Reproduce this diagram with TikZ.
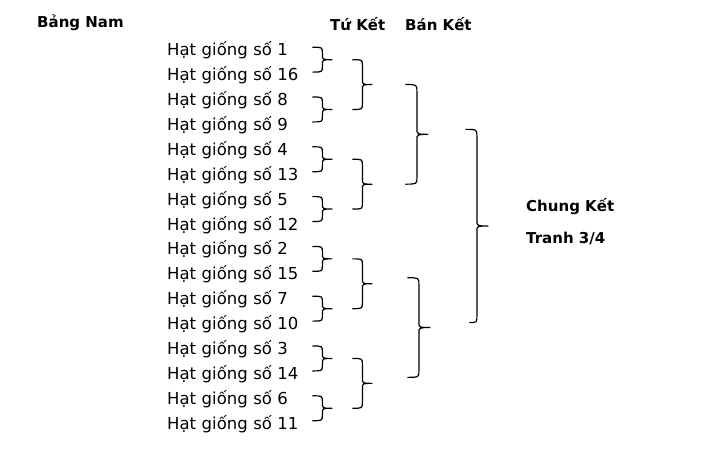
\documentclass[tikz,border=0pt]{standalone}
\usepackage{fontspec}
\setmainfont{DejaVu Sans}
\usetikzlibrary{positioning, calc}
\tikzset{
  seed/.style={inner sep=0pt, minimum height=24.5pt, text width=140pt, text height=17pt, text depth=0pt, align=left, font=\fontsize{16.5}{19}\selectfont},
  head/.style={inner sep=0pt, anchor=base west, font=\fontsize{15}{18}\selectfont\bfseries},
  brk/.style={line width=1.2pt, to path={let \p1=(\tikztostart), \p2=(\tikztotarget), \p3=($(\tikztostart)!.5!(\tikztotarget)$) in
    .. controls (\x1+#1/2,\y1) .. (\x1+#1/2,\y1-0.3*#1)
    -- (\x1+#1/2,\y3+0.25*#1) .. controls (\x1+#1/2,\y3) .. (\x1+#1,\y3)
    .. controls (\x1+#1/2,\y3) .. (\x1+#1/2,\y3-0.25*#1)
    -- (\x1+#1/2,\y2+0.3*#1) .. controls (\x1+#1/2,\y2) .. (\tikztotarget)}}
}

\begin{document}
\begin{tikzpicture}[x=1pt, y=-1pt, node distance=0pt]
\useasboundingbox (0,0) rectangle (720,456);
% headings
\node[head] (nam) at (37,27) {Bảng Nam};
\node[head] (tk) at (330,30) {Tứ Kết};
\node[head] (bk) at (405,30) {Bán Kết};
% seeds
\node[seed, anchor=base west] (s1) at (167,55.7) {Hạt giống số 1};
\node[seed, below=of s1] (s16) {Hạt giống số 16};
\node[seed, below=of s16] (s8) {Hạt giống số 8};
\node[seed, below=of s8] (s9) {Hạt giống số 9};
\node[seed, below=of s9] (s4) {Hạt giống số 4};
\node[seed, below=of s4] (s13) {Hạt giống số 13};
\node[seed, below=of s13] (s5) {Hạt giống số 5};
\node[seed, below=of s5] (s12) {Hạt giống số 12};
\node[seed, below=of s12] (s2) {Hạt giống số 2};
\node[seed, below=of s2] (s15) {Hạt giống số 15};
\node[seed, below=of s15] (s7) {Hạt giống số 7};
\node[seed, below=of s7] (s10) {Hạt giống số 10};
\node[seed, below=of s10] (s3) {Hạt giống số 3};
\node[seed, below=of s3] (s14) {Hạt giống số 14};
\node[seed, below=of s14] (s6) {Hạt giống số 6};
\node[seed, below=of s6] (s11) {Hạt giống số 11};
% first round
\draw[brk=20pt] ([xshift=5pt]s1.east) to ([xshift=5pt]s16.east);
\draw[brk=20pt] ([xshift=5pt]s8.east) to ([xshift=5pt]s9.east);
\draw[brk=20pt] ([xshift=5pt]s4.east) to ([xshift=5pt]s13.east);
\draw[brk=20pt] ([xshift=5pt]s5.east) to ([xshift=5pt]s12.east);
\draw[brk=20pt] ([xshift=5pt]s2.east) to ([xshift=5pt]s15.east);
\draw[brk=20pt] ([xshift=5pt]s7.east) to ([xshift=5pt]s10.east);
\draw[brk=20pt] ([xshift=5pt]s3.east) to ([xshift=5pt]s14.east);
\draw[brk=20pt] ([xshift=5pt]s6.east) to ([xshift=5pt]s11.east);
\coordinate (r1) at ($(s1.east)!.5!(s16.east)+(25,0)$);
\coordinate (r2) at ($(s8.east)!.5!(s9.east)+(25,0)$);
\coordinate (r3) at ($(s4.east)!.5!(s13.east)+(25,0)$);
\coordinate (r4) at ($(s5.east)!.5!(s12.east)+(25,0)$);
\coordinate (r5) at ($(s2.east)!.5!(s15.east)+(25,0)$);
\coordinate (r6) at ($(s7.east)!.5!(s10.east)+(25,0)$);
\coordinate (r7) at ($(s3.east)!.5!(s14.east)+(25,0)$);
\coordinate (r8) at ($(s6.east)!.5!(s11.east)+(25,0)$);
% quarter finals
\draw[brk=20pt] ([xshift=20pt]r1) to ([xshift=20pt]r2);
\draw[brk=20pt] ([xshift=20pt]r3) to ([xshift=20pt]r4);
\draw[brk=20pt] ([xshift=20pt]r5) to ([xshift=20pt]r6);
\draw[brk=20pt] ([xshift=20pt]r7) to ([xshift=20pt]r8);
\coordinate (q1) at ($(r1)!.5!(r2)+(40,0)$);
\coordinate (q2) at ($(r3)!.5!(r4)+(40,0)$);
\coordinate (q3) at ($(r5)!.5!(r6)+(40,-6)$);
\coordinate (q4) at ($(r7)!.5!(r8)+(40,-6)$);
% semi finals
\draw[brk=23pt] ([xshift=33pt]q1) to ([xshift=33pt]q2);
\draw[brk=23pt] ([xshift=35pt]q3) to ([xshift=35pt]q4);
\coordinate (b1) at ($(q1)!.5!(q2)+(56,-5)$);
\coordinate (b2) at ($(q3)!.5!(q4)+(58,-5)$);
% final
\draw[brk=23pt] ([xshift=37pt]b1) to ([xshift=39pt]b2);
\node[head] (ck) at (526,211) {Chung Kết};
\node[head] (t34) at (526,243) {Tranh 3/4};
\end{tikzpicture}
\end{document}
